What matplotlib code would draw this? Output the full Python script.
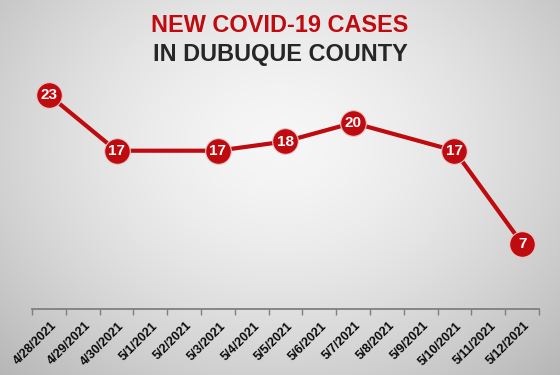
import numpy as np
import matplotlib.pyplot as plt

dates = ['4/28/2021', '4/29/2021', '4/30/2021', '5/1/2021', '5/2/2021', '5/3/2021',
         '5/4/2021', '5/5/2021', '5/6/2021', '5/7/2021', '5/8/2021', '5/9/2021',
         '5/10/2021', '5/11/2021', '5/12/2021']
case_days = ['4/28/2021', '4/30/2021', '5/3/2021', '5/5/2021', '5/7/2021', '5/10/2021', '5/12/2021']
cases = [23, 17, 17, 18, 20, 17, 7]

red = '#BF0A0F'
W, H = 560, 375

fig = plt.figure(figsize=(W / 100, H / 100), dpi=100)

# radial grey background
bg = fig.add_axes([0, 0, 1, 1])
yy, xx = np.mgrid[0:H, 0:W]
r = np.sqrt(((xx - W * 0.5) / (W * 0.62)) ** 2 + ((yy - H * 0.38) / (H * 0.75)) ** 2)
shade = 0.965 - 0.2 * np.clip(r, 0, 1.2) ** 1.6
bg.imshow(np.dstack([shade] * 3), extent=[0, 1, 0, 1], aspect='auto')
bg.axis('off')

def px(l, t, w, h):
    return [l / W, 1 - (t + h) / H, w / W, h / H]

ax = fig.add_axes(px(32, 76.4, 507, 232.2))
ax.patch.set_alpha(0)
ax.set_xlim(-0.5, len(dates) - 0.5)
ax.set_ylim(0, 25)
for s in ['top', 'right', 'left']:
    ax.spines[s].set_visible(False)
ax.spines['bottom'].set_color('#7f7f7f')
ax.spines['bottom'].set_linewidth(1.3)
ax.set_yticks([])
ax.set_xticks(np.arange(len(dates) + 1) - 0.5)
ax.tick_params(axis='x', length=4, color='#7f7f7f', width=1, labelbottom=False)
for i, d in enumerate(dates):
    ax.text(i + 0.05, -1.2, d, rotation=45, ha='right', va='top', rotation_mode='anchor',
            fontsize=9, fontweight='heavy', color='#0a0a0a', family='Liberation Sans')

xs = [dates.index(d) for d in case_days]
ax.plot(xs, cases, color=red, lw=3, marker='o', ms=18.5, mfc=red, mec='#e8c8c8', mew=0.8,
        clip_on=False, zorder=3)
for x, v in zip(xs, cases):
    ax.text(x, v - 0.05, str(v), ha='center', va='center', color='white', fontsize=11,
            fontweight='bold', family='Liberation Sans', zorder=4)

fig.text(0.5, 1 - 26 / H, 'NEW COVID-19 CASES', ha='center', va='center', color=red,
         fontsize=16.9, fontweight='bold', family='Liberation Sans')
fig.text(0.5, 1 - 54.5 / H, 'IN DUBUQUE COUNTY', ha='center', va='center', color='#262626',
         fontsize=16.9, fontweight='bold', family='Liberation Sans')

fig.savefig('out.png', dpi=100)
